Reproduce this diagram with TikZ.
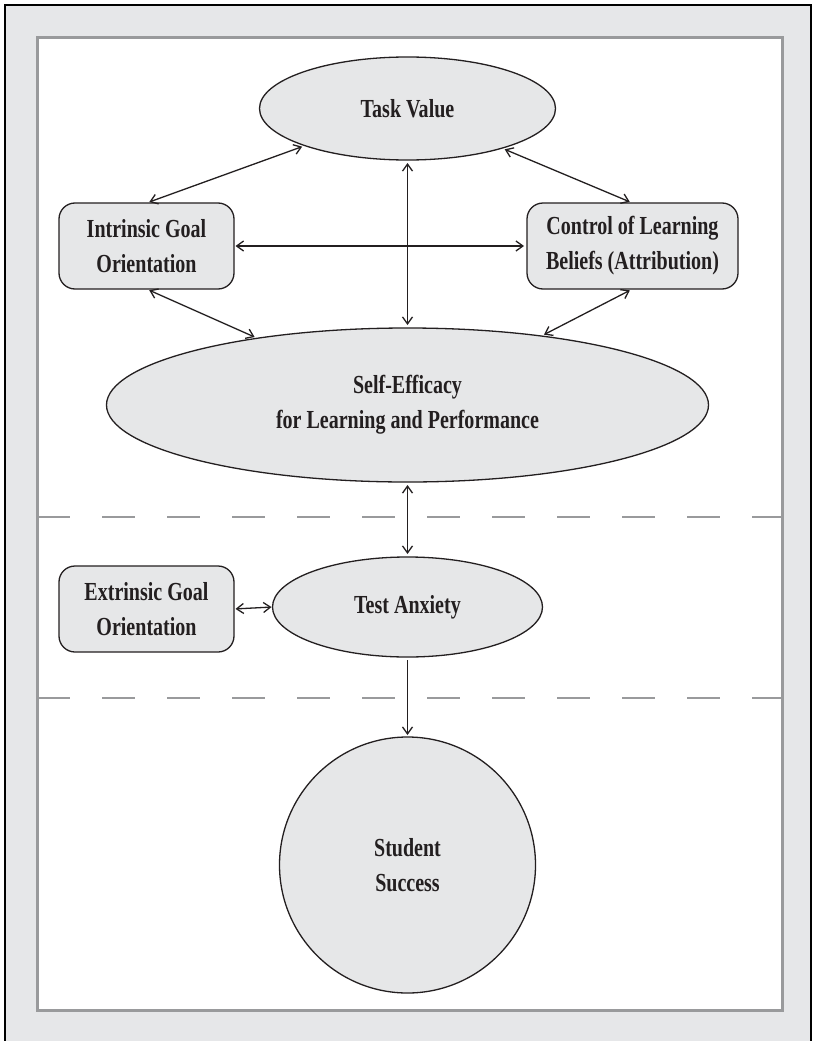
\documentclass[tikz,border=0pt]{standalone}
\usepackage{fontspec}
\setmainfont{Liberation Serif}[FakeStretch=0.77]
\usetikzlibrary{arrows.meta,shapes.geometric}
\definecolor{nodefill}{HTML}{E6E7E8}
\definecolor{bandfill}{HTML}{E6E7E9}
\definecolor{rulegray}{HTML}{999A9C}
\definecolor{inkc}{HTML}{231F20}
\begin{document}
\begin{tikzpicture}[x=1pt,y=-1pt,
  every node/.style={font=\bfseries\fontsize{26}{35}\selectfont, text=inkc},
  box/.style={draw=inkc, fill=nodefill, rounded corners=16pt, line width=1.3pt,
    minimum width=175pt, minimum height=86pt, align=center, inner sep=0pt, outer sep=0pt},
  oval/.style={ellipse, draw=inkc, fill=nodefill, line width=1.3pt, align=center,
    inner sep=0pt, outer sep=0pt},
  barb/.tip={Straight Barb[length=7pt,width=10pt]},
  arr/.style={barb-barb, line width=1.3pt, draw=inkc, shorten <=3pt, shorten >=3pt},
  arrone/.style={-barb, line width=1.3pt, draw=inkc, shorten <=3pt, shorten >=2pt},
  divider/.style={rulegray, line width=2.7pt, dash pattern=on 32.5pt off 32.5pt}]
\useasboundingbox (0,0) rectangle (813,1041);
% frame
\fill[bandfill] (5,5) rectangle (811,1045);
\draw[black, line width=2pt] (5,1045) -- (5,5) -- (811,5) -- (811,1045);
\draw[rulegray, line width=3pt, fill=white] (37.5,37.5) rectangle (782.5,1010.5);
\draw[divider] (37,517) -- (782,517);
\draw[divider] (37,698) -- (782,698);
% nodes
\node[oval, minimum width=296pt, minimum height=103pt] (tv) at (407.5,108.5) {Task Value};
\node[box] (igo) at (146.5,246) {Intrinsic Goal\\Orientation};
\node[box, minimum width=211pt] (clb) at (632.5,246) {Control of Learning\\Beliefs (Attribution)};
\node[oval, minimum width=602pt, minimum height=154pt] (se) at (407.5,405) {Self-Efficacy\\for Learning and Performance};
\node[box] (ego) at (146.5,609) {Extrinsic Goal\\Orientation};
\node[oval, minimum width=270pt, minimum height=100pt] (ta) at (407.5,607) {Test Anxiety};
\node[circle, draw=inkc, fill=nodefill, line width=1.3pt, align=center, inner sep=0pt,
  outer sep=0pt, minimum size=256pt] (ss) at (407.5,865) {Student\\Success};
% connectors
\draw[arr] (igo.north) -- (tv);
\draw[arr] (tv) -- (clb.north);
\draw[arr] (tv.south) -- (se.north);
\draw[arr, shorten <=1.5pt] (igo.east) -- (clb.west);
\draw[arr] (igo.south) -- (se);
\draw[arr] (clb.south) -- (se);
\draw[arr] (se.south) -- (ta.north);
\draw[arr, shorten <=1.5pt, shorten >=1pt] (ego.east) -- (ta.west);
\draw[arrone] (ta.south) -- (ss.north);
\end{tikzpicture}
\end{document}
